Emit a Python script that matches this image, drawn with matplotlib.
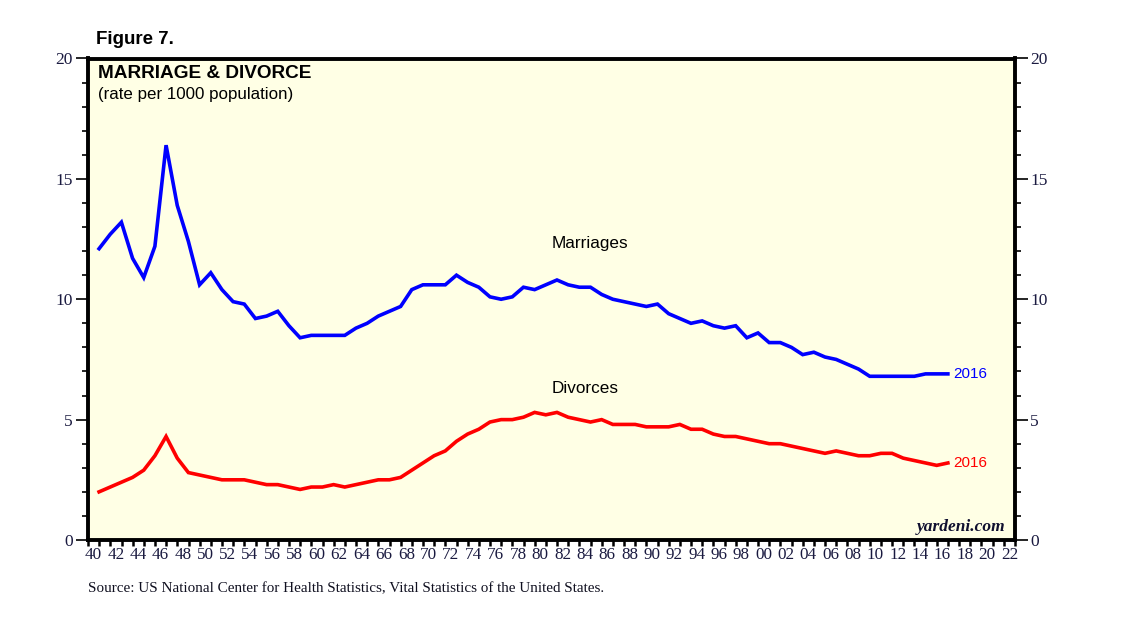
import numpy as np
import matplotlib
matplotlib.use("Agg")
import matplotlib.pyplot as plt
from matplotlib.ticker import FixedLocator, MultipleLocator

# ---- data (rate per 1000 population), annual ----
years = list(range(1940, 2017))
marriages = [12.1, 12.7, 13.2, 11.7, 10.9, 12.2, 16.4, 13.9, 12.4, 10.6,
             11.1, 10.4, 9.9, 9.8, 9.2, 9.3, 9.5, 8.9, 8.4, 8.5,
             8.5, 8.5, 8.5, 8.8, 9.0, 9.3, 9.5, 9.7, 10.4, 10.6,
             10.6, 10.6, 11.0, 10.7, 10.5, 10.1, 10.0, 10.1, 10.5, 10.4,
             10.6, 10.8, 10.6, 10.5, 10.5, 10.2, 10.0, 9.9, 9.8, 9.7,
             9.8, 9.4, 9.2, 9.0, 9.1, 8.9, 8.8, 8.9, 8.4, 8.6,
             8.2, 8.2, 8.0, 7.7, 7.8, 7.6, 7.5, 7.3, 7.1, 6.8,
             6.8, 6.8, 6.8, 6.8, 6.9, 6.9, 6.9]
divorces = [2.0, 2.2, 2.4, 2.6, 2.9, 3.5, 4.3, 3.4, 2.8, 2.7,
            2.6, 2.5, 2.5, 2.5, 2.4, 2.3, 2.3, 2.2, 2.1, 2.2,
            2.2, 2.3, 2.2, 2.3, 2.4, 2.5, 2.5, 2.6, 2.9, 3.2,
            3.5, 3.7, 4.1, 4.4, 4.6, 4.9, 5.0, 5.0, 5.1, 5.3,
            5.2, 5.3, 5.1, 5.0, 4.9, 5.0, 4.8, 4.8, 4.8, 4.7,
            4.7, 4.7, 4.8, 4.6, 4.6, 4.4, 4.3, 4.3, 4.2, 4.1,
            4.0, 4.0, 3.9, 3.8, 3.7, 3.6, 3.7, 3.6, 3.5, 3.5,
            3.6, 3.6, 3.4, 3.3, 3.2, 3.1, 3.2]
label_years = list(range(1940, 2023, 2))
tick_labels = ["%02d" % (y % 100) for y in label_years]
y_major = [0, 5, 10, 15, 20]

SANS = "Liberation Sans"
SERIF = "Liberation Serif"
TICKCOL = "#1a1a40"

fig = plt.figure(figsize=(11.38, 6.22), dpi=100)
ax = fig.add_axes([88/1138, 1-540/622, (1015-88)/1138, (540-58.5)/622])
ax.set_facecolor("#FFFFE5")

# annual values plotted at year-end
x = np.array(years, dtype=float) + 0.99
ax.plot(x, marriages, color="#0000FF", lw=2.6, solid_joinstyle="miter")
ax.plot(x, divorces, color="#FF0000", lw=2.6, solid_joinstyle="miter")

ax.set_xlim(1940, 2023)
ax.set_ylim(0, 20)

for s in ax.spines.values():
    s.set_linewidth(2.8)
    s.set_color("black")

# x axis: ticks at year boundaries, labels centred on year
ax.xaxis.set_minor_locator(FixedLocator(list(range(1940, 2024))))
ax.xaxis.set_major_locator(FixedLocator([y + 0.5 for y in label_years]))
ax.set_xticklabels(tick_labels, fontfamily=SERIF, fontsize=12.3, color=TICKCOL)
ax.tick_params(axis="x", which="major", length=0, pad=5)
ax.tick_params(axis="x", which="minor", length=4.5, width=1.8, direction="out", color="black")

# y axis both sides
ax.yaxis.set_major_locator(FixedLocator(y_major))
ax.yaxis.set_minor_locator(MultipleLocator(1))
ax.tick_params(axis="y", which="both", left=True, right=True, labelleft=True, labelright=True,
               direction="out", color="black")
ax.tick_params(axis="y", which="major", length=9, width=1.2, pad=2, labelsize=12.5, labelcolor=TICKCOL)
ax.tick_params(axis="y", which="minor", length=4.5, width=1.2)
for lab in ax.get_yticklabels():
    lab.set_fontfamily(SERIF)

# series labels
ax.text(x[-1] + 0.45, marriages[-1], "2016", color="#0000FF", fontsize=11,
        fontfamily=SANS, va="center", ha="left")
ax.text(x[-1] + 0.45, divorces[-1], "2016", color="#FF0000", fontsize=11,
        fontfamily=SANS, va="center", ha="left")
ax.text(1984.9, 12.3, "Marriages", fontsize=12.3, fontfamily=SANS, ha="center", va="center")
ax.text(1984.5, 6.3, "Divorces", fontsize=12.3, fontfamily=SANS, ha="center", va="center")

ax.text(0.99, 0.028, "yardeni.com", transform=ax.transAxes, ha="right", va="center",
        fontsize=12.5, fontfamily=SERIF, fontweight="bold", fontstyle="italic", color="#101030")

fig.text(96/1138, 1-40/622, "Figure 7.", fontsize=13.5, fontweight="bold", fontfamily=SANS,
         ha="left", va="center")
fig.text(98/1138, 1-73/622, "MARRIAGE & DIVORCE", fontsize=13.7, fontweight="bold",
         fontfamily=SANS, ha="left", va="center")
fig.text(98/1138, 1-95/622, "(rate per 1000 population)", fontsize=12.2, fontfamily=SANS,
         ha="left", va="center")
fig.text(88/1138, 1-589/622,
         "Source: US National Center for Health Statistics, Vital Statistics of the United States.",
         fontsize=10.9, fontfamily=SERIF, ha="left", va="center", color="#101020")

fig.savefig("out.png", dpi=100, facecolor="white")
